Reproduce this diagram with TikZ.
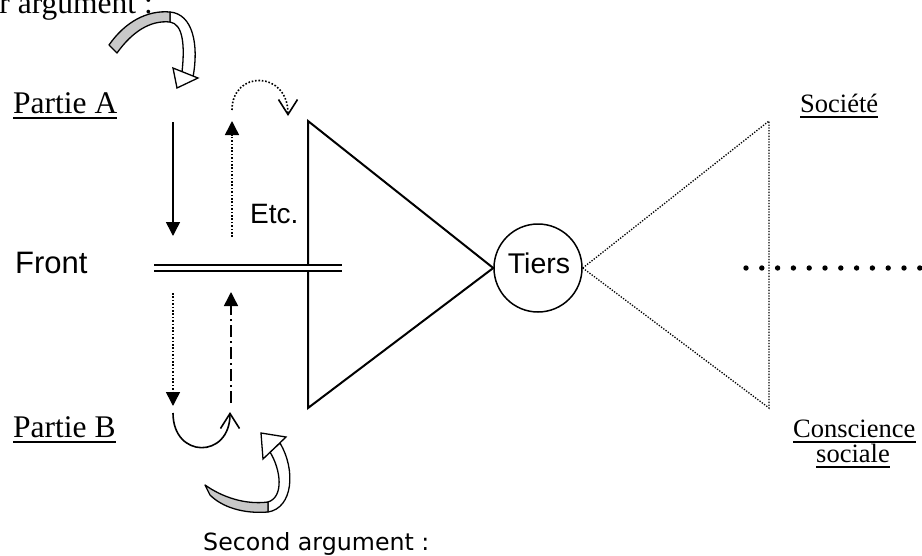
\documentclass[tikz,border=0pt]{standalone}
\usepackage{fontspec}
\setmainfont{Liberation Serif}
\newfontfamily\arialf{Liberation Sans}
\newfontfamily\comicf{DejaVu Sans}
\usetikzlibrary{arrows.meta}
\definecolor{bandgray}{HTML}{C8C8C8}
\begin{document}
\begin{tikzpicture}[x=1pt,y=-1pt,
  bigserif/.style={font=\fontsize{31.5}{36}\selectfont, inner sep=0pt, anchor=base west},
  smallserif/.style={font=\fontsize{26.5}{32}\selectfont, inner sep=0pt, anchor=base west},
  sanslabel/.style={font=\arialf\fontsize{#1}{36}\selectfont, inner sep=0pt, anchor=base west},
  uline/.style={line width=1.6pt},
  solidarrow/.style={line width=1.5pt, -{Triangle[length=14pt,width=14pt]}},
  dotarrow/.style={line width=1.5pt, dash pattern=on 1.6pt off 1.8pt, -{Triangle[length=14pt,width=14pt]}},
  dasharrow/.style={line width=1.5pt, dash pattern=on 12pt off 4pt on 2pt off 4pt, -{Triangle[length=14pt,width=14pt]}},
  barbarc/.style={line width=1.6pt, -{Straight Barb[length=15pt,width=19pt,line width=1.6pt]}},
  trisolid/.style={line width=2pt},
  tridot/.style={line width=1.3pt, dash pattern=on 1.3pt off 1.5pt},
  bandline/.style={line width=1.3pt, line join=round}
]
\useasboundingbox (0,0) rectangle (922,555);

% texts
\node[font=\fontsize{31.5}{36}\selectfont, inner sep=0pt, anchor=base east] (prem) at (153,13) {Premier argument :};
\node[bigserif] (pa) at (13,113) {Partie A};
\draw[uline] ([yshift=-5pt]pa.base west) -- ([yshift=-5pt]pa.base east);
\node[bigserif] (pb) at (13,437) {Partie B};
\draw[uline] ([yshift=-5pt]pb.base west) -- ([yshift=-5pt]pb.base east);
\node[sanslabel=31] (front) at (15,273) {Front};
\node[sanslabel=28] (etc) at (250,223) {Etc.};
\node[smallserif] (soc) at (800,112) {Société};
\draw[line width=1.4pt] ([yshift=-5pt]soc.base west) -- ([yshift=-5pt]soc.base east);
\node[smallserif] (cons) at (793,437) {Conscience};
\draw[line width=1.4pt] ([yshift=-5pt]cons.base west) -- ([yshift=-5pt]cons.base east);
\node[smallserif] (sociale) at (816,462) {sociale};
\draw[line width=1.4pt] ([yshift=-5pt]sociale.base west) -- ([yshift=-5pt]sociale.base east);
\node[font=\comicf\fontsize{23.7}{30}\selectfont, inner sep=0pt, anchor=base west] (second) at (203,550) {Second argument :};

% Tiers circle
\node[draw, circle, line width=1.5pt, minimum size=88pt, inner sep=0pt] (tiers) at (538,268) {};
\node[sanslabel=28.5, anchor=base] (tierstext) at (539,273) {Tiers};

% solid triangle
\coordinate (ltop) at (308,121);
\coordinate (lbot) at (308,408);
\draw[trisolid, line join=miter] (tiers.west) -- (ltop) -- (lbot) -- cycle;
% dotted triangle
\coordinate (rtop) at (769,121);
\coordinate (rbot) at (769,408);
\draw[tridot] (tiers.east) -- (rtop) -- (rbot) -- (tiers.east);

% front double line
\coordinate (f1) at (154,268);
\coordinate (f2) at (342,268);
\draw[line width=2pt, double distance=4pt] (f1) -- (f2);

% dots
\foreach \i in {0,...,11} \fill (746+\i*15.8,268) circle (2.7pt);

% vertical arrows
\coordinate (a1s) at (173,122); \coordinate (a1e) at (173,236);
\draw[solidarrow] (a1s) -- (a1e);
\coordinate (a2s) at (232,237); \coordinate (a2e) at (232,121);
\draw[dotarrow] (a2s) -- (a2e);
\coordinate (a3s) at (173,293); \coordinate (a3e) at (173,406);
\draw[dotarrow] (a3s) -- (a3e);
\coordinate (a4s) at (231,403); \coordinate (a4e) at (231,292);
\draw[dasharrow] (a4s) -- (a4e);

% arcs
\coordinate (c1s) at (232,110); \coordinate (c1e) at (288,116);
\draw[barbarc, dash pattern=on 1.6pt off 1.8pt] (c1s) .. controls (232,70) and (288,70) .. (c1e);
\coordinate (c2s) at (173,413); \coordinate (c2e) at (230,412);
\draw[barbarc] (c2s) .. controls (173,459) and (230,459) .. (c2e);

% top curved block arrow
\filldraw[bandline, fill=white] (170,12) .. controls (193,14) and (199,45) .. (193,77)
  -- (182,72) .. controls (185,45) and (183,24) .. (170,22) -- cycle;
\filldraw[bandline, fill=bandgray] (109,45) .. controls (125,22) and (147,10) .. (170,12)
  -- (170,22) .. controls (150,20) and (132,32) .. (117,53) -- cycle;
\filldraw[bandline, fill=white, line join=miter] (173,68) -- (198,78) -- (177,88) -- cycle;

% bottom curved block arrow
\filldraw[bandline, fill=white] (268,512) .. controls (293,508) and (296,470) .. (280,443)
  -- (270,452) .. controls (281,470) and (284,497) .. (268,502) -- cycle;
\filldraw[bandline, fill=bandgray] (205,485) .. controls (222,497) and (245,505) .. (268,502)
  -- (268,512) .. controls (243,514) and (222,507) .. (210,495) -- cycle;
\filldraw[bandline, fill=white, line join=miter] (261,433) -- (286,437) -- (263,459) -- cycle;
\end{tikzpicture}
\end{document}
